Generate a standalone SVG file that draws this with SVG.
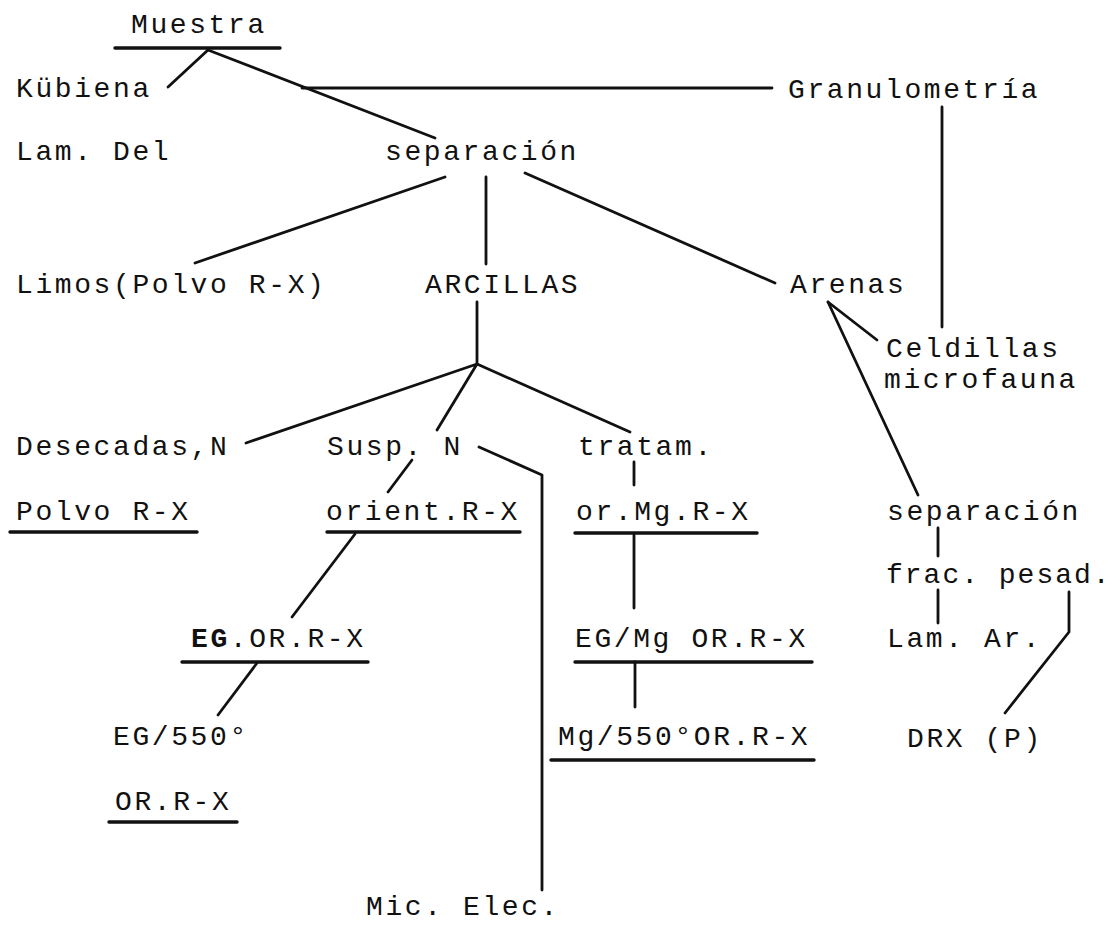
<svg xmlns="http://www.w3.org/2000/svg" width="1116" height="925" viewBox="0 0 1116 925">
<style>
text{font-family:"Liberation Mono","DejaVu Sans Mono",monospace;font-size:28px;letter-spacing:2.6px;fill:#111}
.ul{stroke:#111;stroke-width:3.4;stroke-linecap:round}
.c line,.c polyline{stroke:#111;stroke-width:2.8;fill:none;stroke-linecap:round;stroke-linejoin:round}
</style>
<rect width="1116" height="925" fill="#fff"/>
<g class="c" id="connectors">
<line x1="208" y1="50" x2="168" y2="87"/>
<line x1="208" y1="50" x2="435" y2="138"/>
<line x1="302" y1="88" x2="772" y2="88"/>
<line x1="942" y1="107" x2="942" y2="327"/>
<line x1="445" y1="177" x2="195" y2="263"/>
<line x1="486" y1="177" x2="486" y2="264"/>
<line x1="525" y1="173" x2="775" y2="283"/>
<line x1="828" y1="302" x2="877" y2="340"/>
<line x1="828" y1="302" x2="918" y2="495"/>
<line x1="477" y1="302" x2="477" y2="364"/>
<polyline points="246,443 477,364 437,430"/>
<line x1="477" y1="364" x2="630" y2="432"/>
<line x1="412" y1="460" x2="388" y2="492"/>
<polyline points="479,447 542,475 542,890"/>
<line x1="634" y1="462" x2="634" y2="485"/>
<line x1="355" y1="534" x2="292" y2="617"/>
<line x1="634" y1="535" x2="634" y2="608"/>
<line x1="938" y1="528" x2="938" y2="556"/>
<line x1="938" y1="590" x2="938" y2="623"/>
<polyline points="1069,592 1069,632 1005,713"/>
<line x1="257" y1="663" x2="218" y2="715"/>
<line x1="635" y1="662" x2="635" y2="707"/>
</g>
<g id="muestra"><text x="131" y="33">Muestra</text><line class="ul" x1="115" y1="48" x2="280" y2="48"/></g>
<g id="kubiena"><text x="16" y="97">Kübiena</text></g>
<g id="granulometria"><text x="788" y="98">Granulometría</text></g>
<g id="lamdel"><text x="16" y="160">Lam. Del</text></g>
<g id="separacion1"><text x="385" y="160">separación</text></g>
<g id="limos"><text x="16" y="293">Limos(Polvo R-X)</text></g>
<g id="arcillas"><text x="425" y="293">ARCILLAS</text></g>
<g id="arenas"><text x="790" y="293">Arenas</text></g>
<g id="celdillas"><text x="886" y="357">Celdillas</text><text x="884" y="388">microfauna</text></g>
<g id="desecadas"><text x="16" y="455">Desecadas,N</text></g>
<g id="susp"><text x="327" y="455">Susp. N</text></g>
<g id="tratam"><text x="578" y="455">tratam.</text></g>
<g id="polvo"><text x="16" y="520">Polvo R-X</text><line class="ul" x1="10" y1="532" x2="197" y2="532"/></g>
<g id="orient"><text x="326" y="520">orient.R-X</text><line class="ul" x1="327" y1="532" x2="520" y2="532"/></g>
<g id="ormg"><text x="576" y="520">or.Mg.R-X</text><line class="ul" x1="575" y1="533" x2="757" y2="533"/></g>
<g id="separacion2"><text x="887" y="520">separación</text></g>
<g id="frac"><text x="886" y="583" style="letter-spacing:2px">frac. pesad.</text></g>
<g id="egor"><text x="191" y="647"><tspan font-weight="bold">EG</tspan>.OR.R-X</text><line class="ul" x1="182" y1="662" x2="368" y2="662"/></g>
<g id="egmg"><text x="575" y="647">EG/Mg OR.R-X</text><line class="ul" x1="575" y1="662" x2="812" y2="662"/></g>
<g id="lamar"><text x="887" y="647">Lam. Ar.</text></g>
<g id="eg550"><text x="113" y="745">EG/550°</text></g>
<g id="mg550"><text x="558" y="745">Mg/550°OR.R-X</text><line class="ul" x1="551" y1="760" x2="814" y2="760"/></g>
<g id="drx"><text x="907" y="747">DRX (P)</text></g>
<g id="orrx"><text x="115" y="810">OR.R-X</text><line class="ul" x1="109" y1="822" x2="237" y2="822"/></g>
<g id="micelec"><text x="366" y="915">Mic. Elec.</text></g>
</svg>
